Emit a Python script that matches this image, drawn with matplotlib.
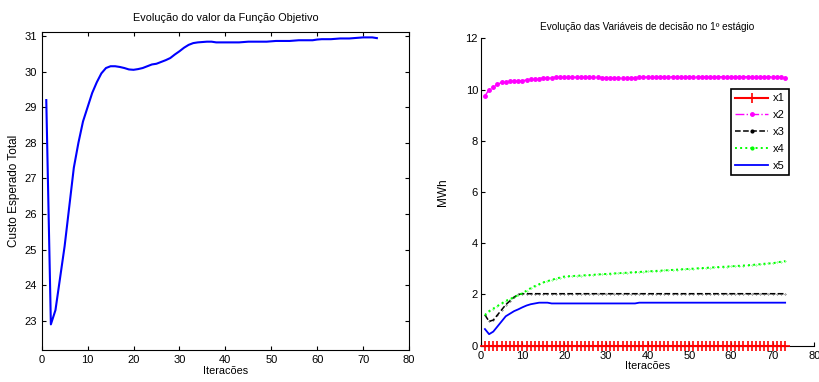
import numpy as np
import matplotlib
matplotlib.use("Agg")
import matplotlib.pyplot as plt

plt.rcParams['font.family'] = ['Liberation Sans', 'DejaVu Sans']

# ---- data ----
iters = list(range(1, 74))

custo = [29.2, 22.9, 23.3, 24.2, 25.1, 26.2, 27.3, 28.0, 28.6, 29.0,
         29.4, 29.7, 29.95, 30.1, 30.15, 30.15, 30.13, 30.1, 30.06, 30.05,
         30.07, 30.1, 30.15, 30.2, 30.22, 30.27, 30.32, 30.38, 30.48, 30.57,
         30.67, 30.75, 30.8, 30.82, 30.83, 30.84, 30.84, 30.82, 30.82, 30.82,
         30.82, 30.82, 30.82, 30.83, 30.84, 30.84, 30.84, 30.84, 30.84, 30.85,
         30.86, 30.86, 30.86, 30.86, 30.87, 30.88, 30.88, 30.88, 30.88, 30.9,
         30.91, 30.91, 30.91, 30.92, 30.93, 30.93, 30.93, 30.94, 30.95, 30.96,
         30.96, 30.96, 30.94]

x1 = [0.0] * 73

x2 = [9.75, 10.0, 10.1, 10.2, 10.28, 10.31, 10.32, 10.33, 10.33, 10.35,
      10.37, 10.4, 10.41, 10.43, 10.45, 10.45, 10.46, 10.48, 10.48, 10.48,
      10.48, 10.48, 10.48, 10.48, 10.48, 10.48, 10.48, 10.48, 10.47, 10.46,
      10.45, 10.45, 10.45, 10.45, 10.45, 10.45, 10.46, 10.48, 10.48, 10.49,
      10.5, 10.5, 10.5, 10.5, 10.5, 10.5, 10.5, 10.5, 10.5, 10.5,
      10.5, 10.5, 10.5, 10.5, 10.5, 10.5, 10.5, 10.5, 10.5, 10.5,
      10.5, 10.5, 10.5, 10.5, 10.5, 10.5, 10.5, 10.5, 10.5, 10.5,
      10.5, 10.5, 10.47]

x3 = [1.2, 0.95, 1.0, 1.2, 1.4, 1.6, 1.75, 1.9, 2.0, 2.03] + [2.03] * 63

x4 = [1.2, 1.35, 1.45, 1.55, 1.65, 1.75, 1.82, 1.9, 1.97, 2.05,
      2.15, 2.25, 2.33, 2.4, 2.47, 2.52, 2.57, 2.62, 2.66, 2.7,
      2.71, 2.72, 2.73, 2.74, 2.75, 2.76, 2.77, 2.78, 2.79, 2.8,
      2.81, 2.82, 2.83, 2.84, 2.85, 2.86, 2.87, 2.88, 2.89, 2.9,
      2.91, 2.92, 2.93, 2.94, 2.95, 2.96, 2.97, 2.98, 2.99, 3.0,
      3.01, 3.02, 3.03, 3.04, 3.05, 3.06, 3.07, 3.08, 3.09, 3.1,
      3.11, 3.12, 3.13, 3.14, 3.15, 3.17, 3.18, 3.2, 3.21, 3.22,
      3.25, 3.28, 3.3]

x5 = [0.65, 0.45, 0.55, 0.75, 0.95, 1.15, 1.25, 1.35, 1.42, 1.5,
      1.57, 1.62, 1.65, 1.68, 1.68, 1.68] + [1.65] * 21 + [1.68] * 36

fig = plt.figure(figsize=(8.19, 3.82), dpi=100)

# ---- left: objective function ----
ax1 = fig.add_axes([0.0509, 0.0838, 0.4485, 0.8332])
ax1.plot(iters, custo, color='#0000ff', linewidth=1.5)
ax1.set_xlim(0, 80)
ax1.set_ylim(22.18, 31.12)
ax1.set_xticks(range(0, 81, 10))
ax1.set_yticks(range(23, 32))
ax1.tick_params(direction='in', top=True, right=True, labelsize=8, length=3, pad=3.5)
ax1.set_title('Evolução do valor da Função Objetivo', fontsize=7.8, pad=8)
ax1.set_xlabel('Iteracões', fontsize=7.8, labelpad=1)
ax1.set_ylabel('Custo Esperado Total', fontsize=8.5, labelpad=3)

# ---- right: decision variables ----
ax2 = fig.add_axes([0.587, 0.095, 0.4073, 0.8047])
ax2.plot(iters, x1, color='red', marker='+', markersize=7, markeredgewidth=1.2,
         linewidth=1.5, clip_on=False, zorder=4, label='x1')
ax2.plot(iters, x2, color='#ff00ff', linestyle='-.', marker='.', markersize=5,
         linewidth=1, label='x2')
ax2.plot(iters, x3, color='black', linestyle='--', marker='.', markersize=0.5,
         linewidth=1.1, label='x3')
ax2.plot(iters, x4, color='#00ff00', linestyle=':', marker='.', markersize=0.5,
         linewidth=1.4, label='x4')
ax2.plot(iters, x5, color='#0000ff', linewidth=1.3, label='x5')
ax2.set_xlim(0, 80)
ax2.set_ylim(0, 12)
ax2.set_xticks(range(0, 81, 10))
ax2.set_yticks(range(0, 13, 2))
ax2.spines['top'].set_visible(False)
ax2.spines['right'].set_visible(False)
ax2.tick_params(direction='in', labelsize=8, length=3, pad=2)
ax2.tick_params(axis='x', pad=4)
ax2.set_title('Evolução das Variáveis de decisão no 1º estágio', fontsize=7.2, pad=6)
ax2.set_xlabel('Iteracões', fontsize=7.8, labelpad=0)
ax2.set_ylabel('MWh', fontsize=8.5, labelpad=12)
leg = ax2.legend(loc='upper left', bbox_to_anchor=(0.749, 0.835), fontsize=8,
                 fancybox=False, framealpha=1, edgecolor='black',
                 handlelength=3.0, borderpad=0.4, labelspacing=0.62,
                 handletextpad=0.4, borderaxespad=0)
leg.get_frame().set_linewidth(1.2)
for h in leg.legend_handles[2:4]:
    h.set_markersize(4)

fig.savefig('out.png', dpi=100)
